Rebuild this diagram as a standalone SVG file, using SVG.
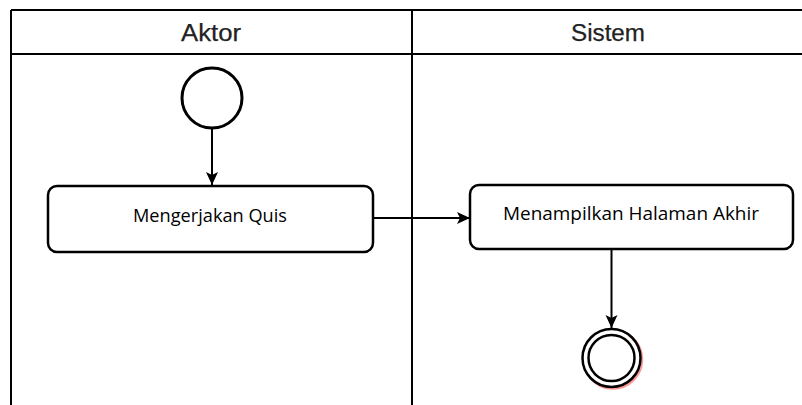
<svg xmlns="http://www.w3.org/2000/svg" width="802" height="405" viewBox="0 0 802 405">
  <style>
    .lane { stroke: #000; stroke-width: 2; fill: none; }
    .hdr { font-family: "Liberation Sans", Arial, sans-serif; font-size: 23px; fill: #222; stroke: #222; stroke-width: 0.25; text-anchor: middle; }
    .box { fill: #fff; stroke: #000; stroke-width: 2.5; }
    .lbl { font-family: "Open Sans", "Liberation Sans", sans-serif; font-size: 18.5px; fill: #000; text-anchor: middle; }
    .edge { stroke: #000; stroke-width: 2; fill: none; marker-end: url(#arrow); }
  </style>
  <defs>
    <marker id="arrow" markerUnits="userSpaceOnUse" markerWidth="14" markerHeight="14" refX="13" refY="7" orient="auto">
      <path d="M0,1 L13,7 L0,13 L3,7 z" fill="#000"/>
    </marker>
  </defs>
  <rect width="802" height="405" fill="#fff"/>
  <g id="swimlanes">
    <line class="lane" x1="11" y1="10" x2="802" y2="10"/>
    <line class="lane" x1="11" y1="54" x2="802" y2="54"/>
    <line class="lane" x1="11" y1="10" x2="11" y2="405"/>
    <line class="lane" x1="412" y1="10" x2="412" y2="405"/>
    <text class="hdr" x="211" y="41" textLength="60" lengthAdjust="spacingAndGlyphs">Aktor</text>
    <text class="hdr" x="608" y="41" textLength="74" lengthAdjust="spacingAndGlyphs">Sistem</text>
  </g>
  <g id="start">
    <circle cx="212" cy="98" r="30" fill="#fff" stroke="#000" stroke-width="3"/>
  </g>
  <g id="mengerjakan">
    <rect class="box" x="48" y="186" width="325" height="66" rx="9"/>
    <text class="lbl" x="210" y="222" textLength="154" lengthAdjust="spacingAndGlyphs">Mengerjakan Quis</text>
  </g>
  <g id="menampilkan">
    <rect class="box" x="470" y="185" width="323" height="64" rx="9"/>
    <text class="lbl" x="631" y="220" textLength="256" lengthAdjust="spacingAndGlyphs">Menampilkan Halaman Akhir</text>
  </g>
  <g id="end">
    <circle cx="613" cy="359.5" r="29" fill="none" stroke="#f55" stroke-opacity="0.6" stroke-width="2.5"/>
    <circle cx="611.5" cy="358" r="29" fill="#fff" stroke="#000" stroke-width="2.5"/>
    <circle cx="611.5" cy="358" r="23" fill="#fff" stroke="#000" stroke-width="2.5"/>
  </g>
  <g id="connectors">
    <line class="edge" x1="212" y1="129" x2="212" y2="185"/>
    <line class="edge" x1="373" y1="218" x2="470" y2="218"/>
    <line class="edge" x1="611.5" y1="249" x2="611.5" y2="328"/>
  </g>
</svg>
